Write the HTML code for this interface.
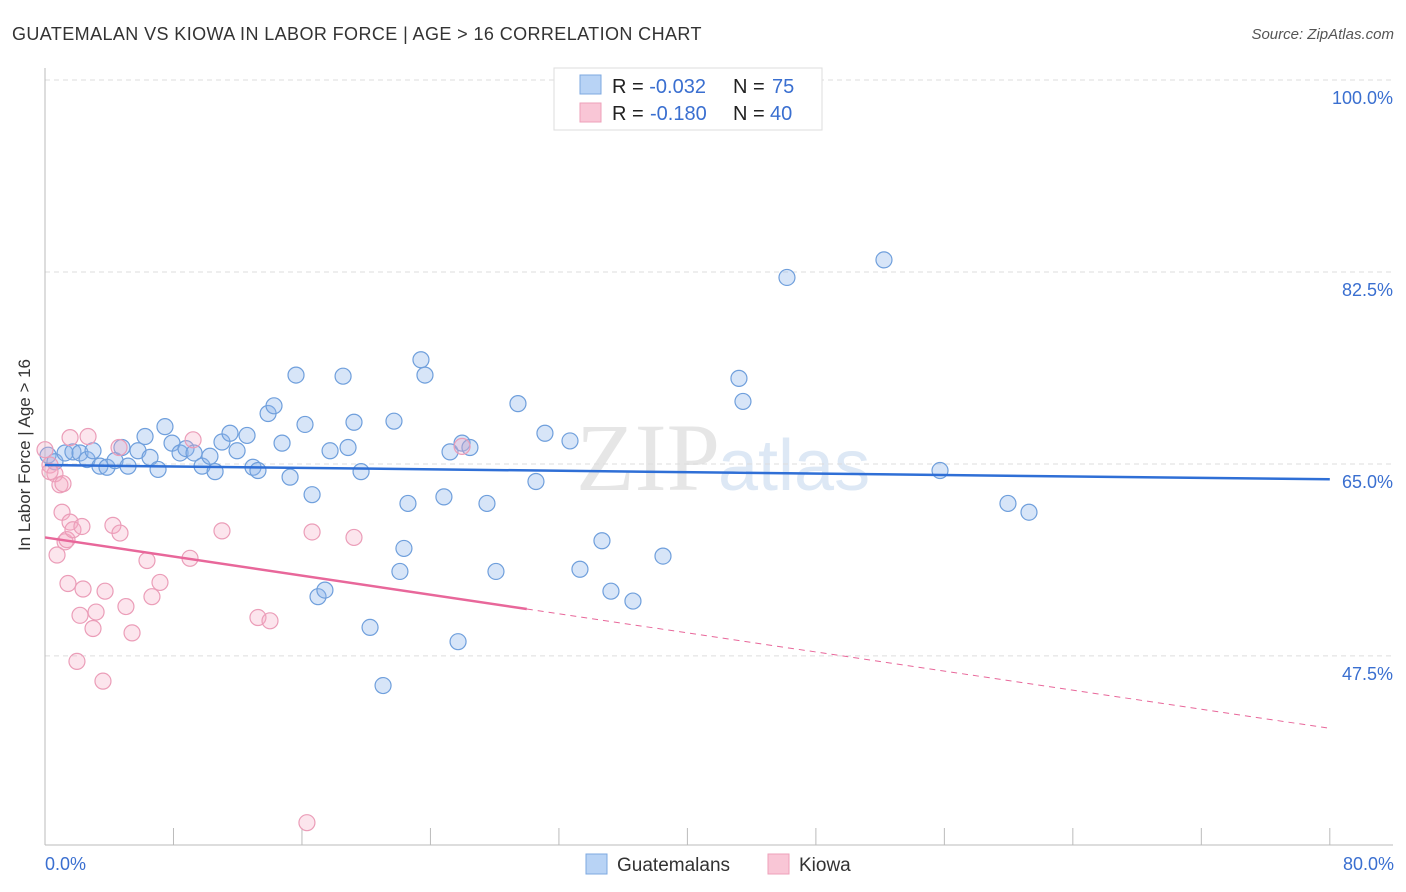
<!DOCTYPE html>
<html><head><meta charset="utf-8"><style>
body{margin:0;background:#fff;font-family:"Liberation Sans",sans-serif;}
svg{display:block}
</style></head><body>
<svg id="c" width="1406" height="892">
<text x="12" y="40" font-size="18" fill="#333" letter-spacing="0.4">GUATEMALAN VS KIOWA IN LABOR FORCE | AGE &gt; 16 CORRELATION CHART</text>
<text x="1394" y="39" font-size="15" fill="#555" font-style="italic" text-anchor="end">Source: ZipAtlas.com</text>
<text x="720" y="490" font-size="96" fill="#e6e6e6" font-family="Liberation Serif" text-anchor="end">ZIP</text>
<text x="718" y="490" font-size="72" fill="#dde8f5">atlas</text>
<g id="grid"></g><g id="axes"></g><g id="pts"></g><g id="trend"></g>
<text x="30" y="455" font-size="17" fill="#333" text-anchor="middle" transform="rotate(-90 30 455)">In Labor Force | Age &gt; 16</text>
<text x="45" y="870" font-size="18" fill="#3a6fd0">0.0%</text>
<text x="1394" y="870" font-size="18" fill="#3a6fd0" text-anchor="end">80.0%</text>
<g>
<rect x="554" y="68" width="268" height="62" fill="#fff" stroke="#ddd"/>
<rect x="580" y="75" width="21" height="19" fill="#b8d3f5" stroke="#7ea8e0"/>
<rect x="580" y="103" width="21" height="19" fill="#f9c6d6" stroke="#eea0ba"/>
<text x="612" y="93" font-size="20" fill="#222">R = <tspan fill="#3a6fd0">-0.032</tspan><tspan x="733">N = </tspan><tspan fill="#3a6fd0" x="772">75</tspan></text>
<text x="612" y="120" font-size="20" fill="#222">R = <tspan fill="#3a6fd0" x="650">-0.180</tspan><tspan x="733">N = </tspan><tspan fill="#3a6fd0" x="770">40</tspan></text>
</g>
<g>
<rect x="586" y="854" width="21" height="20" fill="#b8d3f5" stroke="#7ea8e0"/>
<text x="617" y="871" font-size="19" fill="#333">Guatemalans</text>
<rect x="768" y="854" width="21" height="20" fill="#f9c6d6" stroke="#eea0ba"/>
<text x="799" y="871" font-size="19" fill="#333">Kiowa</text>
</g>
</svg>
<script>
const yTicks=[100,82.5,65,47.5];
const yTickLabels=["100.0%","82.5%","65.0%","47.5%"];
const blueX=[0.19,0.62,1.25,1.74,2.18,2.62,2.99,3.42,3.86,4.36,4.79,5.17,5.79,6.23,6.54,7.04,7.47,7.91,8.41,8.78,9.28,9.78,10.27,10.59,11.02,11.52,11.96,12.58,12.95,13.26,13.89,14.26,14.76,15.26,15.63,16.19,16.63,17.0,17.43,17.75,18.56,18.87,19.24,19.68,20.24,21.05,21.73,22.1,22.35,22.6,23.41,23.66,24.84,25.22,25.97,26.46,25.72,27.52,28.08,29.45,30.57,31.13,32.69,33.31,34.68,35.24,36.61,38.48,43.21,43.46,46.2,52.24,55.73,59.96,61.27];
const blueY=[65.8,65.2,66.0,66.1,66.0,65.4,66.2,64.8,64.7,65.3,66.5,64.8,66.2,67.5,65.6,64.5,68.4,66.9,66.0,66.4,66.0,64.8,65.7,64.3,67.0,67.8,66.2,67.6,64.7,64.4,69.6,70.3,66.9,63.8,73.1,68.6,62.2,52.9,53.5,66.2,73.0,66.5,68.8,64.3,50.1,44.8,68.9,55.2,57.3,61.4,74.5,73.1,62.0,66.1,66.9,66.5,48.8,61.4,55.2,70.5,63.4,67.8,67.1,55.4,58.0,53.4,52.5,56.6,72.8,70.7,82.0,83.6,64.4,61.4,60.6];
const pinkX=[0,0.31,0.62,0.75,0.93,1.06,1.12,1.25,1.37,1.43,1.56,1.56,1.74,1.99,2.18,2.3,2.37,2.68,2.99,3.18,3.61,3.74,4.23,4.61,4.67,5.04,5.42,6.35,6.66,7.16,9.03,9.22,11.02,13.26,14.01,16.63,16.31,19.24,25.97,0.31];
const pinkY=[66.3,64.9,64.1,56.7,63.1,60.6,63.2,57.9,58.1,54.1,67.4,59.7,59.0,47.0,51.2,59.3,53.6,67.5,50.0,51.5,45.2,53.4,59.4,66.5,58.7,52.0,49.6,56.2,52.9,54.2,56.4,67.2,58.9,51.0,50.7,58.8,32.3,58.3,66.6,64.3];
const blueTrend=[64.9,63.6];
const pinkTrend=[58.3,40.9];
const pinkSolidEnd=30;
const NS="http://www.w3.org/2000/svg";
const X=v=>45+v*16.06, Y=v=>80+(100-v)*10.97;
function mk(t,a,p){const e=document.createElementNS(NS,t);for(const k in a)e.setAttribute(k,a[k]);p.appendChild(e);return e;}
const grid=document.getElementById('grid'),axes=document.getElementById('axes'),pts=document.getElementById('pts'),tr=document.getElementById('trend');
yTicks.forEach((t,i)=>{
 const l=mk('line',{x1:45,x2:1393,y1:Y(t),y2:Y(t),stroke:'#ddd','stroke-dasharray':'5,4'},grid);
 
 
 const tx=mk('text',{x:1393,y:Y(t)+24,'font-size':18,fill:'#3a6fd0','text-anchor':'end'},grid);
 tx.textContent=yTickLabels[i];
 
 
});
mk('line',{x1:45,x2:45,y1:68,y2:845,stroke:'#bbb'},axes);
mk('line',{x1:45,x2:1393,y1:845,y2:845,stroke:'#bbb'},axes);
for(let i=1;i<=10;i++){const t=mk('line',{x1:X(i*8),x2:X(i*8),y1:828,y2:845,stroke:'#bbb'},axes);
 
 }
blueX.forEach((x,i)=>{const c=mk('circle',{cx:X(x),cy:Y(blueY[i]),r:8,fill:'rgba(140,180,235,0.35)',stroke:'#6f9fdc','stroke-width':1.2},pts);
 
 });
pinkX.forEach((x,i)=>{const c=mk('circle',{cx:X(x),cy:Y(pinkY[i]),r:8,fill:'rgba(245,170,195,0.3)',stroke:'#eb9db8','stroke-width':1.2},pts);
 
 });
const bl=mk('line',{x1:X(0),x2:X(80),y1:Y(blueTrend[0]),y2:Y(blueTrend[1]),stroke:'#2f6fd6','stroke-width':2.5},tr);


const pm=pinkTrend[0]+(pinkTrend[1]-pinkTrend[0])*pinkSolidEnd/80;
const p1=mk('line',{x1:X(0),x2:X(pinkSolidEnd),y1:Y(pinkTrend[0]),y2:Y(pm),stroke:'#e8679a','stroke-width':2.5},tr);


const p2=mk('line',{x1:X(pinkSolidEnd),x2:X(80),y1:Y(pm),y2:Y(pinkTrend[1]),stroke:'#e8679a','stroke-width':1,'stroke-dasharray':'6,5'},tr);


</script>
</body></html>
